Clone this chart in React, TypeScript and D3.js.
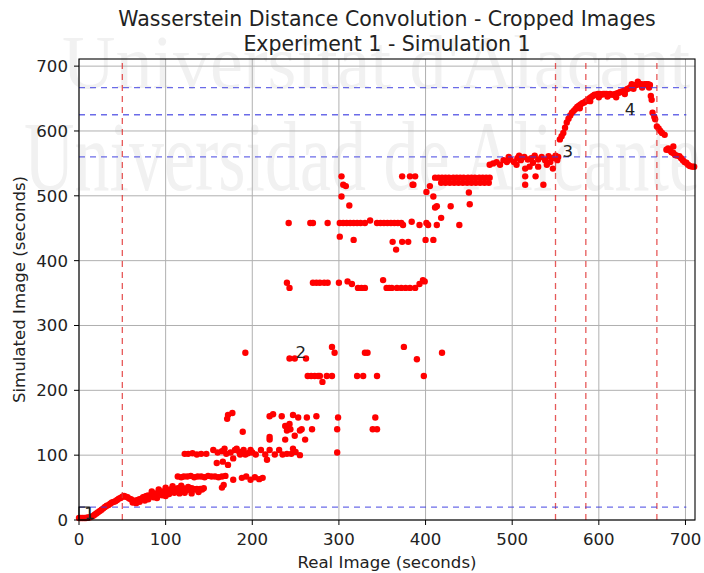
import React from "react";
import * as d3 from "d3";

type P = [number, number];

const titleLines = ["Wasserstein Distance Convolution - Cropped Images", "Experiment 1 - Simulation 1"];
const xLabel = "Real Image (seconds)";
const yLabel = "Simulated Image (seconds)";
const watermarkLines = ["Universitat d'Alacant", "Universidad de Alicante"];

const xTicks = [0, 100, 200, 300, 400, 500, 600, 700];
const yTicks = [0, 100, 200, 300, 400, 500, 600, 700];
const xDomain = [0, 711];
const yDomain = [0, 711];

const verticalLines = [50, 550, 585, 667];
const horizontalLines = [20, 560, 625, 667];
const horizontalExtent = [0, 701];
const regionBox = [0, 12, 0, 20];
const regionLabels: { text: string; x: number; y: number }[] = [
  { text: "1", x: 6, y: 2 },
  { text: "2", x: 250, y: 250 },
  { text: "3", x: 558, y: 560 },
  { text: "4", x: 630, y: 625 },
];

const segment1: P[] = [
  [0, 3], [2, 3], [4, 3], [6, 3], [8, 3], [10, 4], [12, 4], [14, 5], [16, 6], [18, 8], [20, 10], [22, 12],
  [24, 14], [26, 16], [28, 18], [30, 20], [32, 22], [34, 23], [36, 25], [38, 27], [40, 28], [42, 29],
  [44, 31], [46, 33], [48, 34],
];

const band2: P[] = [
  [50, 36], [52, 37], [54, 36], [56, 35], [58, 33], [60, 32], [62, 30], [64, 29], [66, 30], [68, 31],
  [70, 32], [72, 33], [74, 35], [76, 36], [78, 37], [80, 38], [82, 37], [84, 39], [86, 40], [88, 41],
  [90, 40], [92, 42], [94, 43], [96, 44], [98, 43], [100, 45], [102, 46], [104, 44], [106, 47], [108, 46],
  [110, 48], [112, 47], [114, 49], [116, 48], [118, 47], [120, 49], [122, 48], [124, 46], [126, 48],
  [128, 47], [130, 49], [132, 48], [134, 47], [136, 48], [138, 46], [140, 48], [142, 47], [144, 49],
  [62, 27], [66, 26], [70, 28], [76, 30], [80, 32], [86, 35], [90, 34], [96, 38], [100, 37], [104, 40],
  [110, 42], [116, 41], [122, 42], [130, 41], [138, 43],
  [84, 44], [92, 47], [100, 50], [108, 52], [118, 53], [126, 51],
];

const row67: P[] = [
  [114, 67], [118, 66], [121, 67], [125, 67], [129, 68], [133, 66], [137, 67], [141, 67], [145, 66],
  [149, 68], [153, 67], [157, 67], [161, 66], [165, 67], [169, 68], [178, 62], [188, 65], [193, 67],
  [198, 62], [203, 66], [208, 63], [212, 65], [165, 50], [167, 54],
];

const lowScatter: P[] = [
  [122, 102], [126, 102], [131, 103], [136, 101], [141, 102], [147, 102],
  [155, 108], [159, 88], [160, 104], [165, 106], [166, 90], [168, 110], [170, 102], [172, 85],
  [175, 104], [178, 95], [180, 108], [182, 110], [185, 105], [190, 108], [195, 103], [200, 104],
  [171, 156], [172, 162], [177, 165], [189, 136],
  [186, 101], [192, 101], [198, 108], [204, 101], [210, 108], [215, 101], [220, 108], [226, 101],
  [231, 108], [235, 101], [217, 93], [240, 102], [245, 102],
  [220, 160], [224, 163], [234, 160], [247, 162], [253, 158], [263, 158], [274, 160], [299, 158], [342, 158],
  [238, 145], [243, 148], [240, 138], [244, 140], [255, 138], [257, 140], [269, 140], [298, 140], [339, 140], [344, 140],
  [220, 124], [238, 124], [249, 130], [261, 124], [220, 128], [247, 110], [255, 100], [298, 104], [250, 105],
];

const midScatter: P[] = [
  [192, 258], [243, 249], [249, 249], [262, 249], [292, 267], [295, 258],
  [264, 222], [268, 222], [272, 222], [276, 222], [278, 222], [281, 213], [286, 222], [292, 222],
  [321, 222], [328, 222], [344, 222], [330, 258], [333, 258], [375, 267], [390, 248], [398, 222], [419, 258],
];

const row365: P[] = [
  [240, 366], [243, 358], [270, 366], [274, 366], [278, 366], [283, 366], [287, 366], [300, 366],
  [310, 368], [315, 364], [322, 358], [326, 358], [330, 358], [351, 370], [355, 358], [358, 358],
  [361, 358], [367, 358], [372, 358], [377, 358], [382, 358], [388, 358], [393, 364], [397, 370], [399, 368],
];

const row458: P[] = [
  [242, 458], [267, 458], [270, 458], [287, 458], [301, 458], [305, 458], [309, 458], [313, 458],
  [317, 458], [321, 458], [325, 458], [330, 458], [336, 462], [344, 458], [348, 458], [352, 458],
  [356, 458], [360, 458], [364, 458], [368, 458], [372, 458], [374, 455], [384, 460], [393, 455],
  [401, 458], [403, 455], [413, 455], [418, 466], [439, 455],
  [301, 437], [317, 432], [362, 429], [373, 429], [380, 429], [366, 417], [400, 432], [409, 432],
];

const upperScatter: P[] = [
  [303, 530], [305, 517], [308, 515], [303, 499], [312, 485],
  [373, 530], [382, 530], [388, 530], [385, 517], [386, 517], [401, 506], [405, 515], [409, 499],
  [411, 482], [413, 484], [429, 484], [451, 487], [450, 505],
  [411, 528], [415, 528], [419, 528], [423, 528], [427, 528], [432, 528], [436, 528], [440, 528],
  [444, 528], [449, 528], [453, 528], [457, 528], [462, 528], [466, 528], [470, 528], [474, 528],
  [418, 520], [423, 520], [428, 520], [433, 520], [438, 520], [443, 520], [448, 520], [453, 520],
  [458, 520], [463, 520], [468, 520], [473, 520],
];

const band550: P[] = [
  [474, 548], [478, 550], [482, 552], [486, 548], [490, 555], [494, 552], [498, 556], [502, 552],
  [506, 558], [510, 555], [514, 560], [518, 556], [522, 558], [526, 562], [530, 556], [534, 560],
  [538, 555], [542, 561], [546, 558], [550, 562], [553, 560],
  [515, 542], [515, 530], [515, 517], [527, 530], [536, 517], [547, 542], [520, 545], [530, 545],
  [540, 548], [505, 548], [496, 560], [508, 562], [524, 551], [544, 552], [552, 555],
];

const segment3: P[] = [
  [555, 587], [557, 592], [559, 597], [561, 605], [563, 613], [565, 619], [567, 624], [569, 628],
  [571, 631], [573, 634], [575, 637], [577, 639], [579, 641], [581, 643], [583, 644], [585, 646],
  [587, 648], [589, 650], [591, 652], [593, 654], [595, 656], [597, 656], [599, 657], [601, 657],
  [603, 656], [605, 657], [607, 657], [609, 657], [611, 656], [613, 657], [615, 656], [617, 656],
  [619, 657], [621, 658], [623, 659], [625, 660], [627, 661], [629, 662], [631, 663], [633, 665],
  [635, 666], [637, 668], [639, 669], [641, 670], [643, 671], [645, 672], [647, 672], [649, 672],
  [651, 671], [653, 672], [655, 672], [657, 672], [659, 671],
  [578, 635], [590, 646], [600, 652], [610, 653], [620, 652], [630, 657], [640, 665], [650, 667],
  [658, 667], [638, 672], [645, 676],
];

const segment4: P[] = [
  [660, 654], [661, 648], [662, 628], [664, 622], [665, 618], [667, 607], [669, 604], [671, 600],
  [673, 597], [676, 594], [678, 571], [680, 573], [682, 570], [684, 567], [686, 576], [686, 566],
  [688, 563], [690, 562], [693, 561], [695, 558], [697, 555], [699, 552], [701, 551], [703, 548],
  [705, 546], [708, 545], [710, 545],
];

const allPoints: P[] = [
  ...segment1, ...band2, ...row67, ...lowScatter, ...midScatter, ...row365, ...row458,
  ...upperScatter, ...band550, ...segment3, ...segment4,
];

const W = 704;
const H = 573;
const L = 79, R = 695, T = 59, B = 520;
const FONT = "DejaVu Sans, sans-serif";
const FS = 16.6;

export default function App() {
  const x = d3.scaleLinear().domain(xDomain).range([L, R]);
  const y = d3.scaleLinear().domain(yDomain).range([B, T]);
  return (
    <svg width={W} height={H} style={{ position: "absolute", left: 0, top: 0, background: "#fff" }} fontFamily={FONT}>
      <rect x={0} y={0} width={W} height={H} fill="#fff" />
      <g fill="#f1f1f1" fontFamily="Liberation Serif, serif">
        <text x={62} y={88} fontSize={76} textLength={628} lengthAdjust="spacingAndGlyphs">{watermarkLines[0]}</text>
        <text x={24} y={190} fontSize={100} textLength={676} lengthAdjust="spacingAndGlyphs">{watermarkLines[1]}</text>
      </g>
      {xTicks.map((t) => (
        <line key={"gx" + t} x1={x(t)} x2={x(t)} y1={T} y2={B} stroke="#b0b0b0" strokeWidth={1} />
      ))}
      {yTicks.map((t) => (
        <line key={"gy" + t} x1={L} x2={R} y1={y(t)} y2={y(t)} stroke="#b0b0b0" strokeWidth={1} />
      ))}
      <g fill="#ff0000">
        {allPoints.map((p, i) => (
          <circle key={i} cx={x(p[0])} cy={y(p[1])} r={3.2} />
        ))}
      </g>
      {verticalLines.map((v) => (
        <line key={"v" + v} x1={x(v)} x2={x(v)} y1={B} y2={T} stroke="#e03030" strokeOpacity={0.8} strokeWidth={1.3} strokeDasharray="6,5" />
      ))}
      {horizontalLines.map((h) => (
        <line key={"h" + h} x1={x(horizontalExtent[0])} x2={x(horizontalExtent[1])} y1={y(h)} y2={y(h)} stroke="#3a3ae0" strokeOpacity={0.75} strokeWidth={1.3} strokeDasharray="6,5" />
      ))}
      <rect x={x(regionBox[0])} y={y(regionBox[3])} width={x(regionBox[1]) - x(regionBox[0])} height={y(regionBox[2]) - y(regionBox[3])} fill="none" stroke="#000" strokeWidth={1} />
      {regionLabels.map((l) => (
        <text key={l.text} x={x(l.x)} y={y(l.y)} fontSize={FS} fill="#222">{l.text}</text>
      ))}
      <rect x={L} y={T} width={R - L} height={B - T} fill="none" stroke="#000" strokeWidth={1.1} />
      {xTicks.map((t) => (
        <g key={"tx" + t}>
          <line x1={x(t)} x2={x(t)} y1={B} y2={B + 5} stroke="#000" />
          <text x={x(t)} y={B + 25} fontSize={FS} textAnchor="middle" fill="#222">{t}</text>
        </g>
      ))}
      {yTicks.map((t) => (
        <g key={"ty" + t}>
          <line x1={L - 5} x2={L} y1={y(t)} y2={y(t)} stroke="#000" />
          <text x={L - 11} y={y(t) + 6} fontSize={FS} textAnchor="end" fill="#222">{t}</text>
        </g>
      ))}
      <text x={(L + R) / 2} y={568} fontSize={FS} textAnchor="middle" fill="#222">{xLabel}</text>
      <text transform={`translate(25,${(T + B) / 2}) rotate(-90)`} fontSize={FS} textAnchor="middle" fill="#222">{yLabel}</text>
      <text x={(L + R) / 2} y={26} fontSize={20.5} textAnchor="middle" fill="#222">{titleLines[0]}</text>
      <text x={(L + R) / 2} y={51} fontSize={20.5} textAnchor="middle" fill="#222">{titleLines[1]}</text>
    </svg>
  );
}
